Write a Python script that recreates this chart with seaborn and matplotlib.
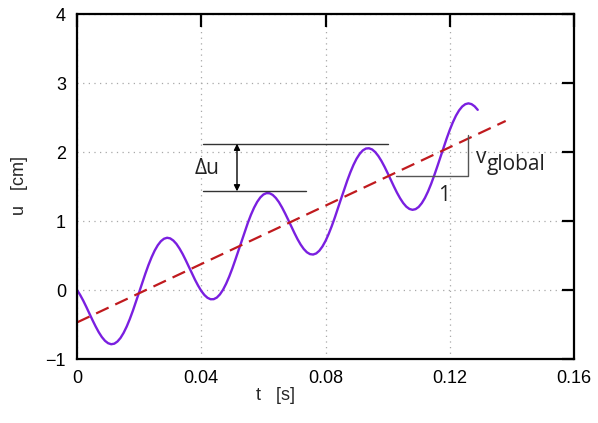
import matplotlib
matplotlib.use("Agg")
import matplotlib.pyplot as plt
import seaborn as sns
import pandas as pd

# displacement u(t) of the oscillating body, sampled every millisecond
t_ms = [0, 1, 2, 3, 4, 5, 6, 7, 8, 9,
        10, 11, 12, 13, 14, 15, 16, 17, 18, 19,
        20, 21, 22, 23, 24, 25, 26, 27, 28, 29,
        30, 31, 32, 33, 34, 35, 36, 37, 38, 39,
        40, 41, 42, 43, 44, 45, 46, 47, 48, 49,
        50, 51, 52, 53, 54, 55, 56, 57, 58, 59,
        60, 61, 62, 63, 64, 65, 66, 67, 68, 69,
        70, 71, 72, 73, 74, 75, 76, 77, 78, 79,
        80, 81, 82, 83, 84, 85, 86, 87, 88, 89,
        90, 91, 92, 93, 94, 95, 96, 97, 98, 99,
        100, 101, 102, 103, 104, 105, 106, 107, 108, 109,
        110, 111, 112, 113, 114, 115, 116, 117, 118, 119,
        120, 121, 122, 123, 124, 125, 126, 127, 128, 129]
u_cm = [0.000, -0.071, -0.154, -0.246, -0.342, -0.438, -0.529, -0.612, -0.682, -0.736,
        -0.771, -0.786, -0.778, -0.747, -0.695, -0.621, -0.529, -0.420, -0.298, -0.167,
        -0.032, 0.105, 0.237, 0.362, 0.474, 0.571, 0.649, 0.707, 0.743, 0.757,
        0.748, 0.717, 0.668, 0.601, 0.522, 0.432, 0.337, 0.241, 0.147, 0.062,
        -0.013, -0.072, -0.113, -0.134, -0.133, -0.110, -0.064, 0.003, 0.091, 0.195,
        0.313, 0.442, 0.576, 0.713, 0.847, 0.974, 1.091, 1.193, 1.277, 1.341,
        1.384, 1.404, 1.402, 1.378, 1.334, 1.273, 1.196, 1.109, 1.016, 0.919,
        0.825, 0.736, 0.658, 0.594, 0.547, 0.520, 0.514, 0.530, 0.569, 0.630,
        0.711, 0.811, 0.925, 1.051, 1.184, 1.321, 1.456, 1.586, 1.706, 1.813,
        1.903, 1.973, 2.023, 2.050, 2.054, 2.037, 1.999, 1.942, 1.870, 1.786,
        1.694, 1.598, 1.502, 1.411, 1.330, 1.261, 1.208, 1.175, 1.162, 1.172,
        1.204, 1.259, 1.334, 1.428, 1.538, 1.661, 1.792, 1.928, 2.065, 2.196,
        2.320, 2.431, 2.527, 2.603, 2.659, 2.693, 2.705, 2.694, 2.662, 2.611]

# global drift line
drift_t = [0.0, 0.138]
drift_u = [-0.47, 2.45]

# amplitude marker levels and slope triangle
du_top = 2.12
du_bottom = 1.43
tri_t = [0.1027, 0.1259]
tri_u = [1.65, 2.25]

x_ticks = [0, 0.04, 0.08, 0.12, 0.16]
x_labels = ["0", "0.04", "0.08", "0.12", "0.16"]
y_ticks = [-1, 0, 1, 2, 3, 4]
y_labels = ["\u22121", "0", "1", "2", "3", "4"]

sns.set_theme(style="white")
plt.rcParams["font.family"] = ["Liberation Sans", "DejaVu Sans"]

fig = plt.figure(figsize=(5.98, 4.23), dpi=100)
ax = fig.add_axes([0.1288, 0.1513, 0.8311, 0.8156])

curve = pd.DataFrame({"t": [m / 1000 for m in t_ms], "u": u_cm})
drift = pd.DataFrame({"t": drift_t, "u": drift_u})

sns.lineplot(data=curve, x="t", y="u", ax=ax, color="#7a1fe0", lw=1.7,
             sort=False, estimator=None)
sns.lineplot(data=drift, x="t", y="u", ax=ax, color="#c01a1e", lw=1.6,
             linestyle=(0, (6.2, 3.3)), sort=False, estimator=None)

ax.set_xlim(0, 0.16)
ax.set_ylim(-1, 4)
ax.set_xticks(x_ticks)
ax.set_xticklabels(x_labels)
ax.set_yticks(y_ticks)
ax.set_yticklabels(y_labels)
ax.set_xlabel("")
ax.set_ylabel("")

ax.grid(True, color="#a8a8a8", lw=0.9, linestyle=(0, (1, 3.5)))
ax.set_axisbelow(True)
for sp in ax.spines.values():
    sp.set_color("black")
    sp.set_linewidth(1.6)
ax.tick_params(direction="in", length=9, width=1.6, colors="black",
               labelsize=13, pad=8, top=True, right=True,
               labeltop=False, labelright=False)

ann_font = ["Open Sans", "DejaVu Sans"]

# amplitude marker
ann_col = "#333333"
ax.plot([0.0406, 0.1001], [du_top, du_top], color=ann_col, lw=1.0)
ax.plot([0.0406, 0.0737], [du_bottom, du_bottom], color=ann_col, lw=1.0)
ax.annotate("", xy=(0.0515, du_top), xytext=(0.0515, du_bottom),
            arrowprops=dict(arrowstyle="<|-|>", color="black", lw=1.0,
                            mutation_scale=9, shrinkA=0, shrinkB=0))
ax.text(0.0420, 1.76, "\u0394u", fontsize=15, family=ann_font,
        ha="center", va="center", color="#222222")

# slope triangle of the drift line
ax.plot([tri_t[0], tri_t[1], tri_t[1]], [tri_u[0], tri_u[0], tri_u[1]],
        color="#555555", lw=1.0)
ax.text(0.1284, 1.84, "v", fontsize=15, family=ann_font,
        ha="left", va="baseline", color="#222222")
ax.text(0.1319, 1.74, "global", fontsize=15, family=ann_font,
        ha="left", va="baseline", color="#222222")
ax.text(0.1182, 1.37, "1", fontsize=15, family=ann_font,
        ha="center", va="center", color="#222222")

fig.text(275.5 / 598, 1 - 395 / 423, "t   [s]", fontsize=13,
         ha="center", va="center")
fig.text(19.5 / 598, 1 - 185 / 423, "u   [cm]", fontsize=13,
         ha="center", va="center", rotation=90)

fig.savefig("out.png", dpi=100, facecolor="white")
